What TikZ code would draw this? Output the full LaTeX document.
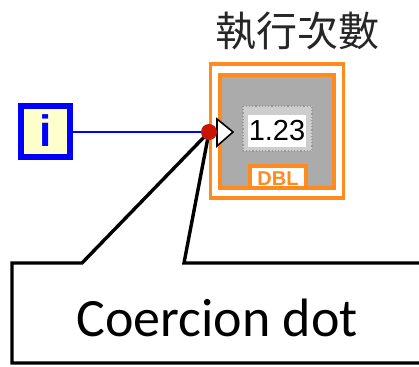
\documentclass[tikz,border=0pt]{standalone}
\usepackage{fontspec}
\setmainfont{Liberation Sans}
\newfontfamily\cjkfont{Noto Sans CJK TC}
\newfontfamily\calfont{Carlito}
\definecolor{lvorange}{HTML}{FF8A1E}
\definecolor{lvgray}{HTML}{ABABAB}
\definecolor{lvblue}{HTML}{0000FF}
\definecolor{lvyellow}{HTML}{FFFFCC}
\definecolor{lvred}{HTML}{C81400}
\tikzset{
  orangeline/.style={draw=lvorange, line width=3.5pt},
  calloutline/.style={draw=black, line width=3.4pt, line join=miter},
  wire/.style={draw=lvblue, line width=2.6pt}
}
\begin{document}
\begin{tikzpicture}[x=1pt,y=-1pt]
\useasboundingbox (0,0) rectangle (419,366);
\clip (0,0) rectangle (419,366);
% label
\node (label) at (297,31) {\fontsize{41}{41}\selectfont\cjkfont\color{black!85}執行次數};
% indicator outer frame
\node[orangeline, fill=white, minimum width=133pt, minimum height=134pt, inner sep=0pt] (ind) at (277,131) {};
\path[orangeline, fill=lvgray] (220,75) rectangle (334,188);
\node[orangeline, fill=white, minimum width=56pt, minimum height=22pt, inner sep=0pt] (tab) at (278,177) {};
\node[text=lvorange, font=\fontsize{20}{20}\selectfont\bfseries] (dbl) at (278,178.5) {DBL};
% digital display
\draw[gray!80, dotted, line width=1.2pt, fill=lvgray!60] (243,106) rectangle (312,151);
\node[fill=white, minimum width=58pt, minimum height=32pt, inner sep=0pt] (disp) at (277,131) {\fontsize{29}{29}\selectfont 1.23};
% input terminal triangle
\path[draw=black, fill=white, line width=1.6pt, line join=miter] (217,119) -- (233,132) -- (217,146) -- cycle;
% I32 terminal
\node[draw=lvblue, fill=lvyellow, line width=6pt, minimum width=49pt, minimum height=51pt, inner sep=0pt] (iterm) at (45.5,131.5) {};
\node[text=lvblue, font=\fontsize{44}{44}\selectfont\bfseries] (ilabel) at (46,131) {i};
% coercion dot position
\coordinate (dot) at (209,132);
% wire
\draw[wire] (iterm.east |- dot) -- (dot);
% callout
\coordinate (c1) at (82,263);
\coordinate (c2) at (184,263);
\path[calloutline, fill=white] (430,263) -- (c2) -- (dot) -- (c1) -- (12,263) -- (12,363) -- (430,363) -- cycle;
\node[font=\fontsize{54}{54}\selectfont\calfont] (ctext) at (217,318) {Coercion dot};
% red dot
\fill[lvred] (dot) circle (8pt);
\end{tikzpicture}
\end{document}
